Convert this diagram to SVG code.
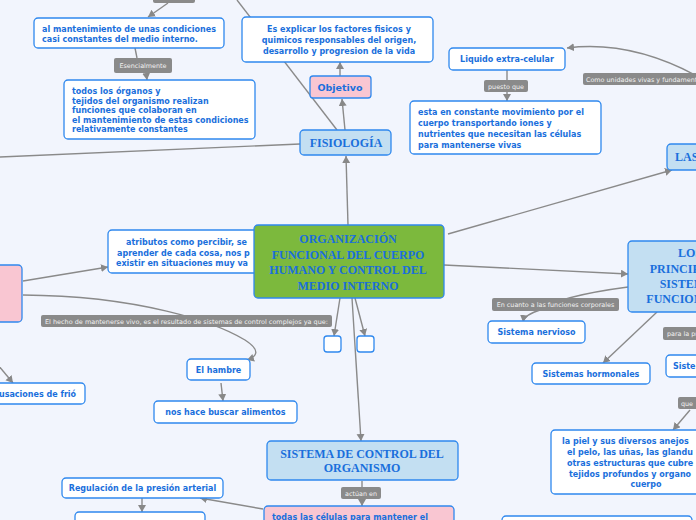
<svg xmlns="http://www.w3.org/2000/svg" width="696" height="520" viewBox="0 0 696 520">
<defs>
<marker id="ah" markerUnits="userSpaceOnUse" markerWidth="9" markerHeight="9" refX="7" refY="4" orient="auto">
<path d="M0,0 L7,4 L0,8 Z" fill="#888"/>
</marker>
<style>
.c{fill:none;stroke:#8a8a8a;stroke-width:1.4}
.a{marker-end:url(#ah)}
.b{fill:#fff;stroke:#2f88ee;stroke-width:1.3}
.p{fill:#f9c6d2;stroke:#2f88ee;stroke-width:1.3}
.lb{fill:#c3dff2;stroke:#2f88ee;stroke-width:1.3}
.g{fill:#7cb93d;stroke:#2f88ee;stroke-width:1.3}
.t{font-family:"DejaVu Sans",Verdana,sans-serif;font-weight:bold;font-size:8px;fill:#1a6fdc}
.s{font-family:"Liberation Serif","Times New Roman",serif;font-weight:bold;font-size:12px;fill:#1a6fdc}
.m{text-anchor:middle}
.lr{fill:#8a8a8a}
.lt{font-family:"DejaVu Sans",Verdana,sans-serif;font-size:6.4px;fill:#f2f2f2}
</style>
</defs>
<rect width="696" height="520" fill="#f2f5fd"/>
<g id="connectors">
<path class="c a" d="M168,3 L148,17"/>
<path class="c" d="M135,48 L137,58"/>
<path class="c a" d="M146,72 L147,80"/>
<path class="c" d="M0,157 L300,144"/>
<path class="c" d="M237,0 L337,130"/>
<path class="c a" d="M345,130 L342,99"/>
<path class="c a" d="M340,76 L340,62"/>
<path class="c a" d="M348,225 L346,156"/>
<path class="c a" d="M697,76 Q630,40 567,48"/>
<path class="c a" d="M507,70 L507,101"/>
<path class="c a" d="M448,234 L672,170"/>
<path class="c a" d="M444,265 L628,274"/>
<path class="c a" d="M628,287 Q560,296 540,310 Q524,315 523,322"/>
<path class="c a" d="M657,312 L603,363"/>
<path class="c a" d="M690,410 L673,430"/>
<path class="c a" d="M23,281 L108,267"/>
<path class="c a" d="M23,295 C140,296 215,322 245,340 C262,351 256,357 247,360"/>
<path class="c a" d="M-2,365 L13,383"/>
<path class="c a" d="M221,383 L223,401"/>
<path class="c a" d="M340,298 L334,336"/>
<path class="c a" d="M355,298 L365,336"/>
<path class="c a" d="M352,298 L361,441"/>
<path class="c a" d="M362,481 L362,506"/>
<path class="c a" d="M263,509 L200,498"/>
<path class="c a" d="M142,498 L142,512"/>
<g id="labels">
<rect class="lr" x="153" y="-4" width="42" height="7" rx="2"/>
<rect class="lr" x="114" y="58" width="58" height="15" rx="2"/>
<text class="lt" x="143" y="67.5" text-anchor="middle">Esencialmente</text>
<rect class="lr" x="583" y="73" width="120" height="12" rx="2"/>
<text class="lt" x="586" y="81.5">Como unidades vivas y fundamentales</text>
<rect class="lr" x="484" y="80" width="44" height="12" rx="2"/>
<text class="lt" x="506" y="88.5" text-anchor="middle">puesto que</text>
<rect class="lr" x="41" y="315" width="291" height="12" rx="2"/>
<text class="lt" x="45" y="323.5" textLength="283" lengthAdjust="spacingAndGlyphs">El hecho de mantenerse vivo, es el resultado de sistemas de control complejos ya que:</text>
<rect class="lr" x="492" y="298" width="127" height="13" rx="2"/>
<text class="lt" x="555.5" y="306.5" text-anchor="middle">En cuanto a las funciones corporales</text>
<rect class="lr" x="663" y="327" width="40" height="13" rx="2"/>
<text class="lt" x="667" y="335.5">para la protección</text>
<rect class="lr" x="678" y="397" width="25" height="12" rx="2"/>
<text class="lt" x="681" y="405.5">que</text>
<rect class="lr" x="341" y="487" width="40" height="12" rx="2"/>
<text class="lt" x="361" y="495.5" text-anchor="middle">actúan en</text>
</g>
</g>
<g id="n-mantenimiento">
<rect class="b" x="34" y="18" width="190" height="30" rx="4"/>
<text class="t" x="42" y="32">al mantenimiento de unas condiciones</text>
<text class="t" x="42" y="41.5">casi constantes del medio interno.</text>
</g>
<g id="n-organos">
<rect class="b" x="64" y="80" width="191" height="59" rx="4"/>
<text class="t" x="72" y="94">todos los órganos y</text>
<text class="t" x="72" y="104">tejidos del organismo realizan</text>
<text class="t" x="72" y="113">funciones que colaboran en</text>
<text class="t" x="72" y="122.5">el mantenimiento de estas condiciones</text>
<text class="t" x="72" y="132">relativamente constantes</text>
</g>
<g id="n-explicar">
<rect class="b" x="242" y="17" width="191" height="45" rx="4"/>
<text class="t m" x="339" y="32">Es explicar los factores fisicos y</text>
<text class="t m" x="339" y="43">quimicos responsables del origen,</text>
<text class="t m" x="339" y="54">desarrollo y progresion de la vida</text>
</g>
<g id="n-objetivo">
<rect class="p" x="310" y="76" width="61" height="22" rx="3"/>
<text class="t m" x="340" y="90.5" style="font-size:9.5px">Objetivo</text>
</g>
<g id="n-fisiologia">
<rect class="lb" x="300" y="130" width="91" height="25" rx="4"/>
<text class="s m" x="346" y="147">FISIOLOGÍA</text>
</g>
<g id="n-liquido">
<rect class="b" x="449" y="48" width="116" height="22" rx="4"/>
<text class="t m" x="507" y="62">Liquido extra-celular</text>
</g>
<g id="n-movimiento">
<rect class="b" x="410" y="101" width="191" height="53" rx="4"/>
<text class="t" x="418" y="115">esta en constante movimiento por el</text>
<text class="t" x="418" y="126">cuerpo transportando iones y</text>
<text class="t" x="418" y="136.5">nutrientes que necesitan las células</text>
<text class="t" x="418" y="147.5">para mantenerse vivas</text>
</g>
<g id="n-las">
<rect class="lb" x="667" y="144" width="40" height="26" rx="4"/>
<text class="s" x="675" y="161">LAS</text>
</g>
<g id="n-atributos">
<rect class="b" x="108" y="230" width="170" height="43" rx="4"/>
<text class="t" x="126" y="245">atributos como percibir, se</text>
<text class="t" x="117" y="256">aprender de cada cosa, nos p</text>
<text class="t" x="116" y="266">existir en situaciones muy va</text>
</g>
<g id="n-central">
<rect class="g" x="254" y="225" width="190" height="73" rx="4"/>
<text class="s m" x="348" y="243">ORGANIZACIÓN</text>
<text class="s m" x="348" y="258.5">FUNCIONAL DEL CUERPO</text>
<text class="s m" x="348" y="274">HUMANO Y CONTROL DEL</text>
<text class="s m" x="348" y="289.5">MEDIO INTERNO</text>
</g>
<g id="n-pink-left">
<rect class="p" x="-10" y="265" width="32" height="57" rx="4"/>
</g>
<g id="n-frio">
<rect class="b" x="-8" y="383" width="93" height="21" rx="4"/>
<text class="t" x="-1" y="396.5">usaciones de frió</text>
</g>
<g id="n-hambre">
<rect class="b" x="187" y="359" width="63" height="21" rx="4"/>
<text class="t m" x="218.5" y="372.5">El hambre</text>
</g>
<g id="n-alimentos">
<rect class="b" x="154" y="401" width="143" height="22" rx="4"/>
<text class="t m" x="225.5" y="415">nos hace buscar alimentos</text>
</g>
<g id="n-empty1">
<rect class="b" x="324" y="336" width="17" height="16" rx="3"/>
</g>
<g id="n-empty2">
<rect class="b" x="357" y="336" width="17" height="16" rx="3"/>
</g>
<g id="n-sistema-control">
<rect class="lb" x="267" y="441" width="191" height="39" rx="4"/>
<text class="s m" x="362" y="458">SISTEMA DE CONTROL DEL</text>
<text class="s m" x="362" y="472">ORGANISMO</text>
</g>
<g id="n-celulas">
<rect class="p" x="264" y="506" width="190" height="30" rx="4"/>
<text class="t" x="272" y="520">todas las células para mantener el</text>
</g>
<g id="n-regulacion">
<rect class="b" x="62" y="478" width="161" height="20" rx="4"/>
<text class="t m" x="142.5" y="491">Regulación de la presión arterial</text>
</g>
<g id="n-bottom-left">
<rect class="b" x="75" y="512" width="130" height="20" rx="4"/>
</g>
<g id="n-los">
<rect class="lb" x="628" y="241" width="100" height="71" rx="4"/>
<text class="s m" x="690" y="257">LOS</text>
<text class="s m" x="690" y="273">PRINCIPALES</text>
<text class="s m" x="690" y="288">SISTEMAS</text>
<text class="s m" x="690" y="303">FUNCIONALES</text>
</g>
<g id="n-nervioso">
<rect class="b" x="488" y="321" width="97" height="22" rx="4"/>
<text class="t m" x="536.5" y="335">Sistema nervioso</text>
</g>
<g id="n-hormonales">
<rect class="b" x="532" y="363" width="118" height="21" rx="4"/>
<text class="t m" x="591" y="377">Sistemas hormonales</text>
</g>
<g id="n-siste">
<rect class="b" x="666" y="355" width="40" height="22" rx="4"/>
<text class="t" x="673" y="369">Siste</text>
</g>
<g id="n-piel">
<rect class="b" x="551" y="430" width="190" height="64" rx="4"/>
<text class="t" x="562" y="444">la piel y sus diversos anejos</text>
<text class="t" x="567" y="455">el pelo, las uñas, las glandu</text>
<text class="t" x="567" y="466">otras estructuras que cubre</text>
<text class="t" x="569" y="476.5">tejidos profundos y organo</text>
<text class="t m" x="646" y="486.5">cuerpo</text>
</g>
<g id="n-bottom-right">
<rect class="b" x="502" y="516" width="190" height="20" rx="4"/>
</g>
</svg>
